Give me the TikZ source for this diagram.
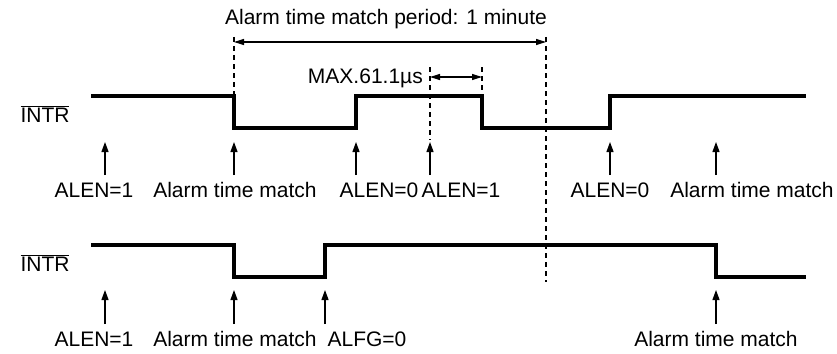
\documentclass[tikz,border=0pt]{standalone}
\usepackage{fontspec}
\setmainfont{Liberation Sans}
\usetikzlibrary{arrows.meta}
\begin{document}
\begin{tikzpicture}[x=1pt,y=-1pt,
  wave/.style={line width=3.2pt},
  evarrow/.style={line width=1.2pt,-{Triangle[length=10pt,width=7pt]}},
  dimline/.style={line width=1.2pt,{Triangle[length=10pt,width=6pt]}-{Triangle[length=10pt,width=6pt]}},
  guide/.style={line width=1.2pt,dash pattern=on 5pt off 4pt},
  lbl/.style={font=\fontsize{21}{24}\selectfont,inner sep=0pt,anchor=base}]
\useasboundingbox (0,0) rectangle (837,353);

% signal names
\node[lbl] (n1) at (45,122) {$\overline{\hbox{INTR}}$};
\node[lbl] (n2) at (45,271) {$\overline{\hbox{INTR}}$};

% waveforms
\draw[wave] (91,96) -- (234,96) -- (234,128) -- (356,128) -- (356,96) -- (482,96) -- (482,128) -- (610,128) -- (610,96) -- (806,96);
\draw[wave] (91,245) -- (234,245) -- (234,277) -- (325,277) -- (325,245) -- (716,245) -- (716,277) -- (806,277);

% guide lines
\coordinate (g1t) at (234,37);  \coordinate (g1b) at (234,96);
\coordinate (g2t) at (546,37);  \coordinate (g2b) at (546,282);
\coordinate (g3t) at (430,67);  \coordinate (g3b) at (430,140);
\coordinate (g4t) at (482,67);  \coordinate (g4b) at (482,96);
\draw[guide] (g1t) -- (g1b);
\draw[guide] (g2t) -- (g2b);
\draw[guide] (g3t) -- (g3b);
\draw[guide] (g4t) -- (g4b);

% dimensions
\coordinate (d1a) at (234,42); \coordinate (d1b) at (546,42);
\draw[dimline] (d1a) -- (d1b);
\node[lbl] (period) at (386,25) {Alarm time match period: 1 minute};
\coordinate (d2a) at (430,77); \coordinate (d2b) at (482,77);
\draw[dimline] (d2a) -- (d2b);
\node[lbl,anchor=base east] (max) at (423,83) {MAX.61.1µs};

% top event arrows
\foreach \n/\x in {a/105,b/234,c/356,d/430,e/610,f/716}{
  \coordinate (t\n) at (\x,175);
  \coordinate (h\n) at (\x,142);
  \draw[evarrow] (t\n) -- (h\n);
}
\node[lbl] (la) at (94,197) {ALEN=1};
\node[lbl] (lb) at (235,197) {Alarm time match};
\node[lbl] (lc) at (379,197) {ALEN=0};
\node[lbl] (ld) at (461,197) {ALEN=1};
\node[lbl] (le) at (610,197) {ALEN=0};
\node[lbl] (lf) at (752,197) {Alarm time match};

% bottom event arrows
\foreach \n/\x in {a/105,b/234,c/325,f/716}{
  \coordinate (bt\n) at (\x,324);
  \coordinate (bh\n) at (\x,290);
  \draw[evarrow] (bt\n) -- (bh\n);
}
\node[lbl] (ma) at (94,346) {ALEN=1};
\node[lbl] (mb) at (235,346) {Alarm time match};
\node[lbl] (mc) at (367,346) {ALFG=0};
\node[lbl] (mf) at (716,346) {Alarm time match};
\end{tikzpicture}
\end{document}
